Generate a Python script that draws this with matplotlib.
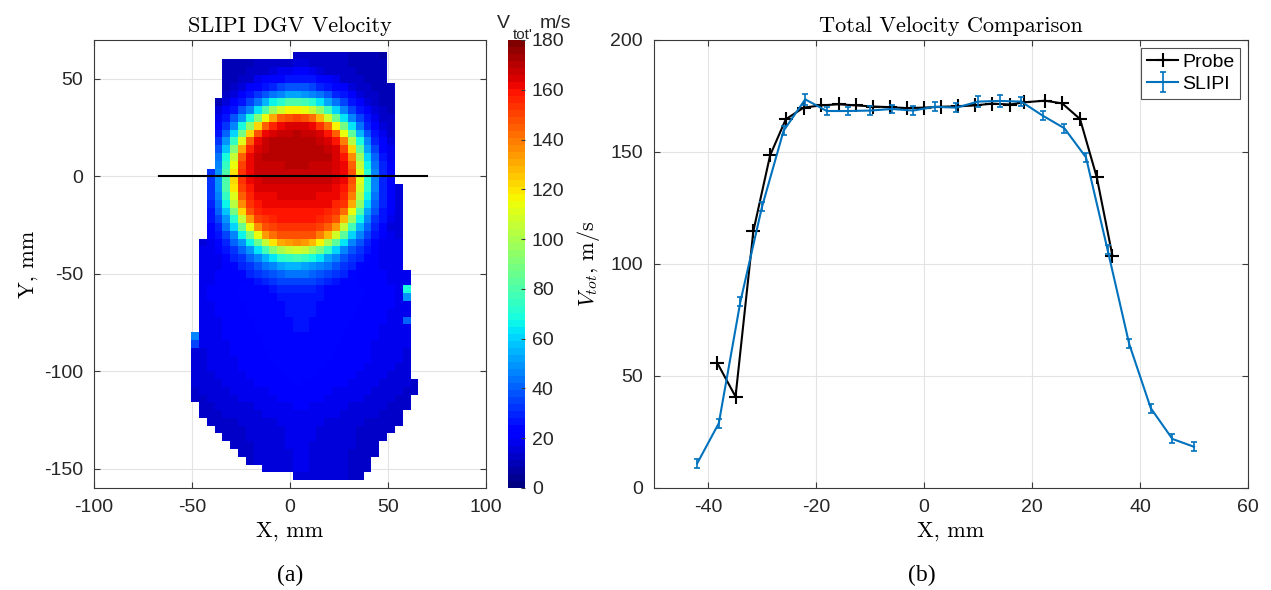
import numpy as np
import matplotlib
matplotlib.use("Agg")
import matplotlib.pyplot as plt

plt.rcParams["font.family"] = ["Liberation Sans", "DejaVu Sans"]
plt.rcParams["mathtext.fontset"] = "cm"
plt.rcParams["axes.unicode_minus"] = False

# ---- panel (b): centreline profiles ----
probe_x = [-38.3, -34.9, -31.6, -28.5, -25.6, -22.3, -19.1, -15.8, -12.6, -9.4,
           -6.3, -3.2, 0.0, 3.2, 6.3, 9.5, 12.6, 15.9, 18.6, 22.4, 25.6, 28.9,
           32.0, 34.9]
probe_v = [55.9, 40.8, 114.7, 148.5, 164.6, 169.8, 170.8, 171.3, 170.8, 170.3,
           170.0, 169.6, 169.8, 170.2, 170.4, 170.8, 171.6, 171.2, 172.2, 172.9,
           171.7, 164.7, 138.7, 103.6]

slipi_x = [-42, -38, -34, -30, -26, -22, -18, -14, -10, -6, -2, 2, 6, 10, 14,
           18, 22, 26, 30, 34, 38, 42, 46, 50]
slipi_v = [11.0, 28.9, 83.2, 125.5, 159.5, 173.5, 168.3, 168.3, 168.5, 169.2,
           168.5, 170.2, 169.8, 172.5, 172.8, 172.5, 166.2, 160.6, 147.6, 106.3,
           64.3, 35.6, 21.9, 18.4]
slipi_err = [2.0, 2.0, 2.0, 2.0, 2.0, 2.5, 2.0, 2.0, 2.0, 2.0, 2.0, 2.0, 2.0,
             2.5, 2.5, 2.0, 2.0, 2.0, 2.0, 2.0, 2.0, 2.0, 2.0, 2.0]

# ---- panel (a): DGV map ----
# measured region, row runs: (y_top, y_bottom, x_left, x_right) in mm
mask_runs = [
    (64, 60, 1.5, 49.5),
    (60, 48, -34.5, 49.5),
    (48, 40, -34.5, 53.5),
    (40, 4, -38.5, 53.5),
    (4, -4, -42.5, 53.5),
    (-4, -32, -42.5, 57.5),
    (-32, -48, -46.5, 57.5),
    (-48, -80, -46.5, 61.5),
    (-80, -104, -50.5, 61.5),
    (-104, -112, -50.5, 65.5),
    (-112, -116, -50.5, 61.5),
    (-116, -120, -46.5, 61.5),
    (-120, -124, -46.5, 57.5),
    (-124, -128, -42.5, 57.5),
    (-128, -132, -38.5, 53.5),
    (-132, -136, -34.5, 49.5),
    (-136, -140, -30.5, 45.5),
    (-140, -144, -26.5, 45.5),
    (-144, -148, -22.5, 41.5),
    (-148, -152, -14.5, 41.5),
    (-152, -156, 1.5, 37.5),
]
# jet core ellipse (centre, semi-axes at ~110 m/s ring)
jet_x0, jet_y0 = 3.0, -2.0
jet_ax, jet_ay = 33.0, 37.0
ring_r = [0.0, 0.6, 0.8, 0.9, 1.0, 1.1, 1.2, 1.35, 1.6]
ring_frac = [1.0, 0.99, 0.94, 0.82, 0.6, 0.38, 0.22, 0.1, 0.0]
# core level by height (y ascending)
core_y = [-40, -20, 0, 20, 40]
core_v = [150, 160, 168, 173, 168]
# background level by height (y ascending)
bg_y = [-156, -130, -100, -60, 0, 40, 64]
bg_v = [14, 15, 21, 24, 18, 14, 11]
col_x = [-50, -30, 5, 35, 65]
col_dv = [-6, -2, 3, -1, -6]
# isolated edge cells (x, y, velocity)
spots = [(59.5, -58, 68), (59.5, -62, 48), (59.5, -74, 40),
         (-48.5, -82, 45), (-48.5, -86, 35)]
line_x = [-67, 70]
line_y = [0, 0]

x_edges = np.arange(-50.5, 66.0, 4.0)
y_edges = np.arange(-156.0, 65.0, 4.0)
xc = 0.5 * (x_edges[:-1] + x_edges[1:])
yc = 0.5 * (y_edges[:-1] + y_edges[1:])
X, Y = np.meshgrid(xc, yc)

r = np.sqrt(((X - jet_x0) / jet_ax) ** 2 + ((Y - jet_y0) / jet_ay) ** 2)
frac = np.interp(r, ring_r, ring_frac)
core = np.interp(Y, core_y, core_v)
bg = np.interp(Y, bg_y, bg_v) + np.interp(X, col_x, col_dv)
vel = bg + (core - bg) * frac

inside = np.zeros_like(vel, dtype=bool)
for yt, yb, xl, xr in mask_runs:
    inside |= (Y < yt) & (Y > yb) & (X > xl) & (X < xr)
for sx, sy, sv in spots:
    vel[(np.abs(X - sx) < 1) & (np.abs(Y - sy) < 1)] = sv
vel = np.ma.masked_where(~inside, vel)

fig = plt.figure(figsize=(12.71, 5.90), dpi=100)
W, H = 1271, 590


def box(x0, y0, x1, y1):
    return [x0 / W, 1 - y1 / H, (x1 - x0) / W, (y1 - y0) / H]


spine_c = "#3a3a3a"
grid_c = "#e3e3e3"


def style(ax):
    ax.tick_params(direction="in", top=True, right=True, length=4,
                   labelsize=14, color=spine_c, labelcolor="#262626", pad=8)
    for s in ax.spines.values():
        s.set_color(spine_c)
        s.set_linewidth(0.8)
    ax.grid(True, color=grid_c, lw=0.8)
    ax.set_axisbelow(True)


serif = "cmr10"

# panel (a)
ax1 = fig.add_axes(box(94, 40, 486, 488))
cmap = plt.get_cmap("jet", 64)
pc = ax1.pcolormesh(x_edges, y_edges, vel, cmap=cmap, vmin=0, vmax=180)
ax1.plot(line_x, line_y, color="black", lw=1.5)
ax1.set_xlim(-100, 100)
ax1.set_ylim(-160, 70)
ax1.set_xticks([-100, -50, 0, 50, 100])
ax1.set_yticks([-150, -100, -50, 0, 50])
style(ax1)
ax1.set_title("SLIPI DGV Velocity", family=serif, fontsize=16, pad=6)
ax1.set_xlabel("X, mm", family=serif, fontsize=16, labelpad=4)
ax1.set_ylabel("Y, mm", family=serif, fontsize=16, labelpad=4)

cax = fig.add_axes(box(508, 40, 525, 488))
cb = fig.colorbar(pc, cax=cax, ticks=np.arange(0, 181, 20))
cb.outline.set_visible(False)
cax.tick_params(direction="in", length=3, labelsize=14, color=spine_c,
                labelcolor="#262626", pad=5)
fig.text(497 / W, 1 - 28 / H, "V", fontsize=14, color="#262626")
fig.text(513 / W, 1 - 39 / H, "tot'", fontsize=11, color="#262626")
fig.text(540 / W, 1 - 28 / H, "m/s", fontsize=14, color="#262626")

# panel (b)
ax2 = fig.add_axes(box(654, 40, 1248, 488))
ax2.plot(probe_x, probe_v, color="black", lw=1.5, marker="+", ms=10,
         mew=1.5, label="Probe")
ax2.errorbar(slipi_x, slipi_v, yerr=slipi_err, color="#0072BD", lw=1.5,
             capsize=2.5, elinewidth=1.2, capthick=1.2, label="SLIPI")
ax2.set_xlim(-50, 60)
ax2.set_ylim(0, 200)
ax2.set_xticks([-40, -20, 0, 20, 40, 60])
ax2.set_yticks([0, 50, 100, 150, 200])
style(ax2)
ax2.set_title("Total Velocity Comparison", family=serif, fontsize=16, pad=6)
ax2.set_xlabel("X, mm", family=serif, fontsize=16, labelpad=4)
ax2.set_ylabel(r"$V_{tot}$, m/s", family=serif, fontsize=16, labelpad=6)
leg = ax2.legend(loc="upper right", fontsize=14, frameon=True, fancybox=False,
                 handlelength=1.6, handletextpad=0.2, borderpad=0.3,
                 labelspacing=0.2, borderaxespad=0.4)
leg.get_frame().set_edgecolor("#262626")
leg.get_frame().set_linewidth(0.8)

fig.text(290 / W, 1 - 575 / H, "(a)", family="Liberation Serif", fontsize=17,
         ha="center", va="center")
fig.text(922 / W, 1 - 575 / H, "(b)", family="Liberation Serif", fontsize=17,
         ha="center", va="center")

fig.savefig("out.png", dpi=100)
